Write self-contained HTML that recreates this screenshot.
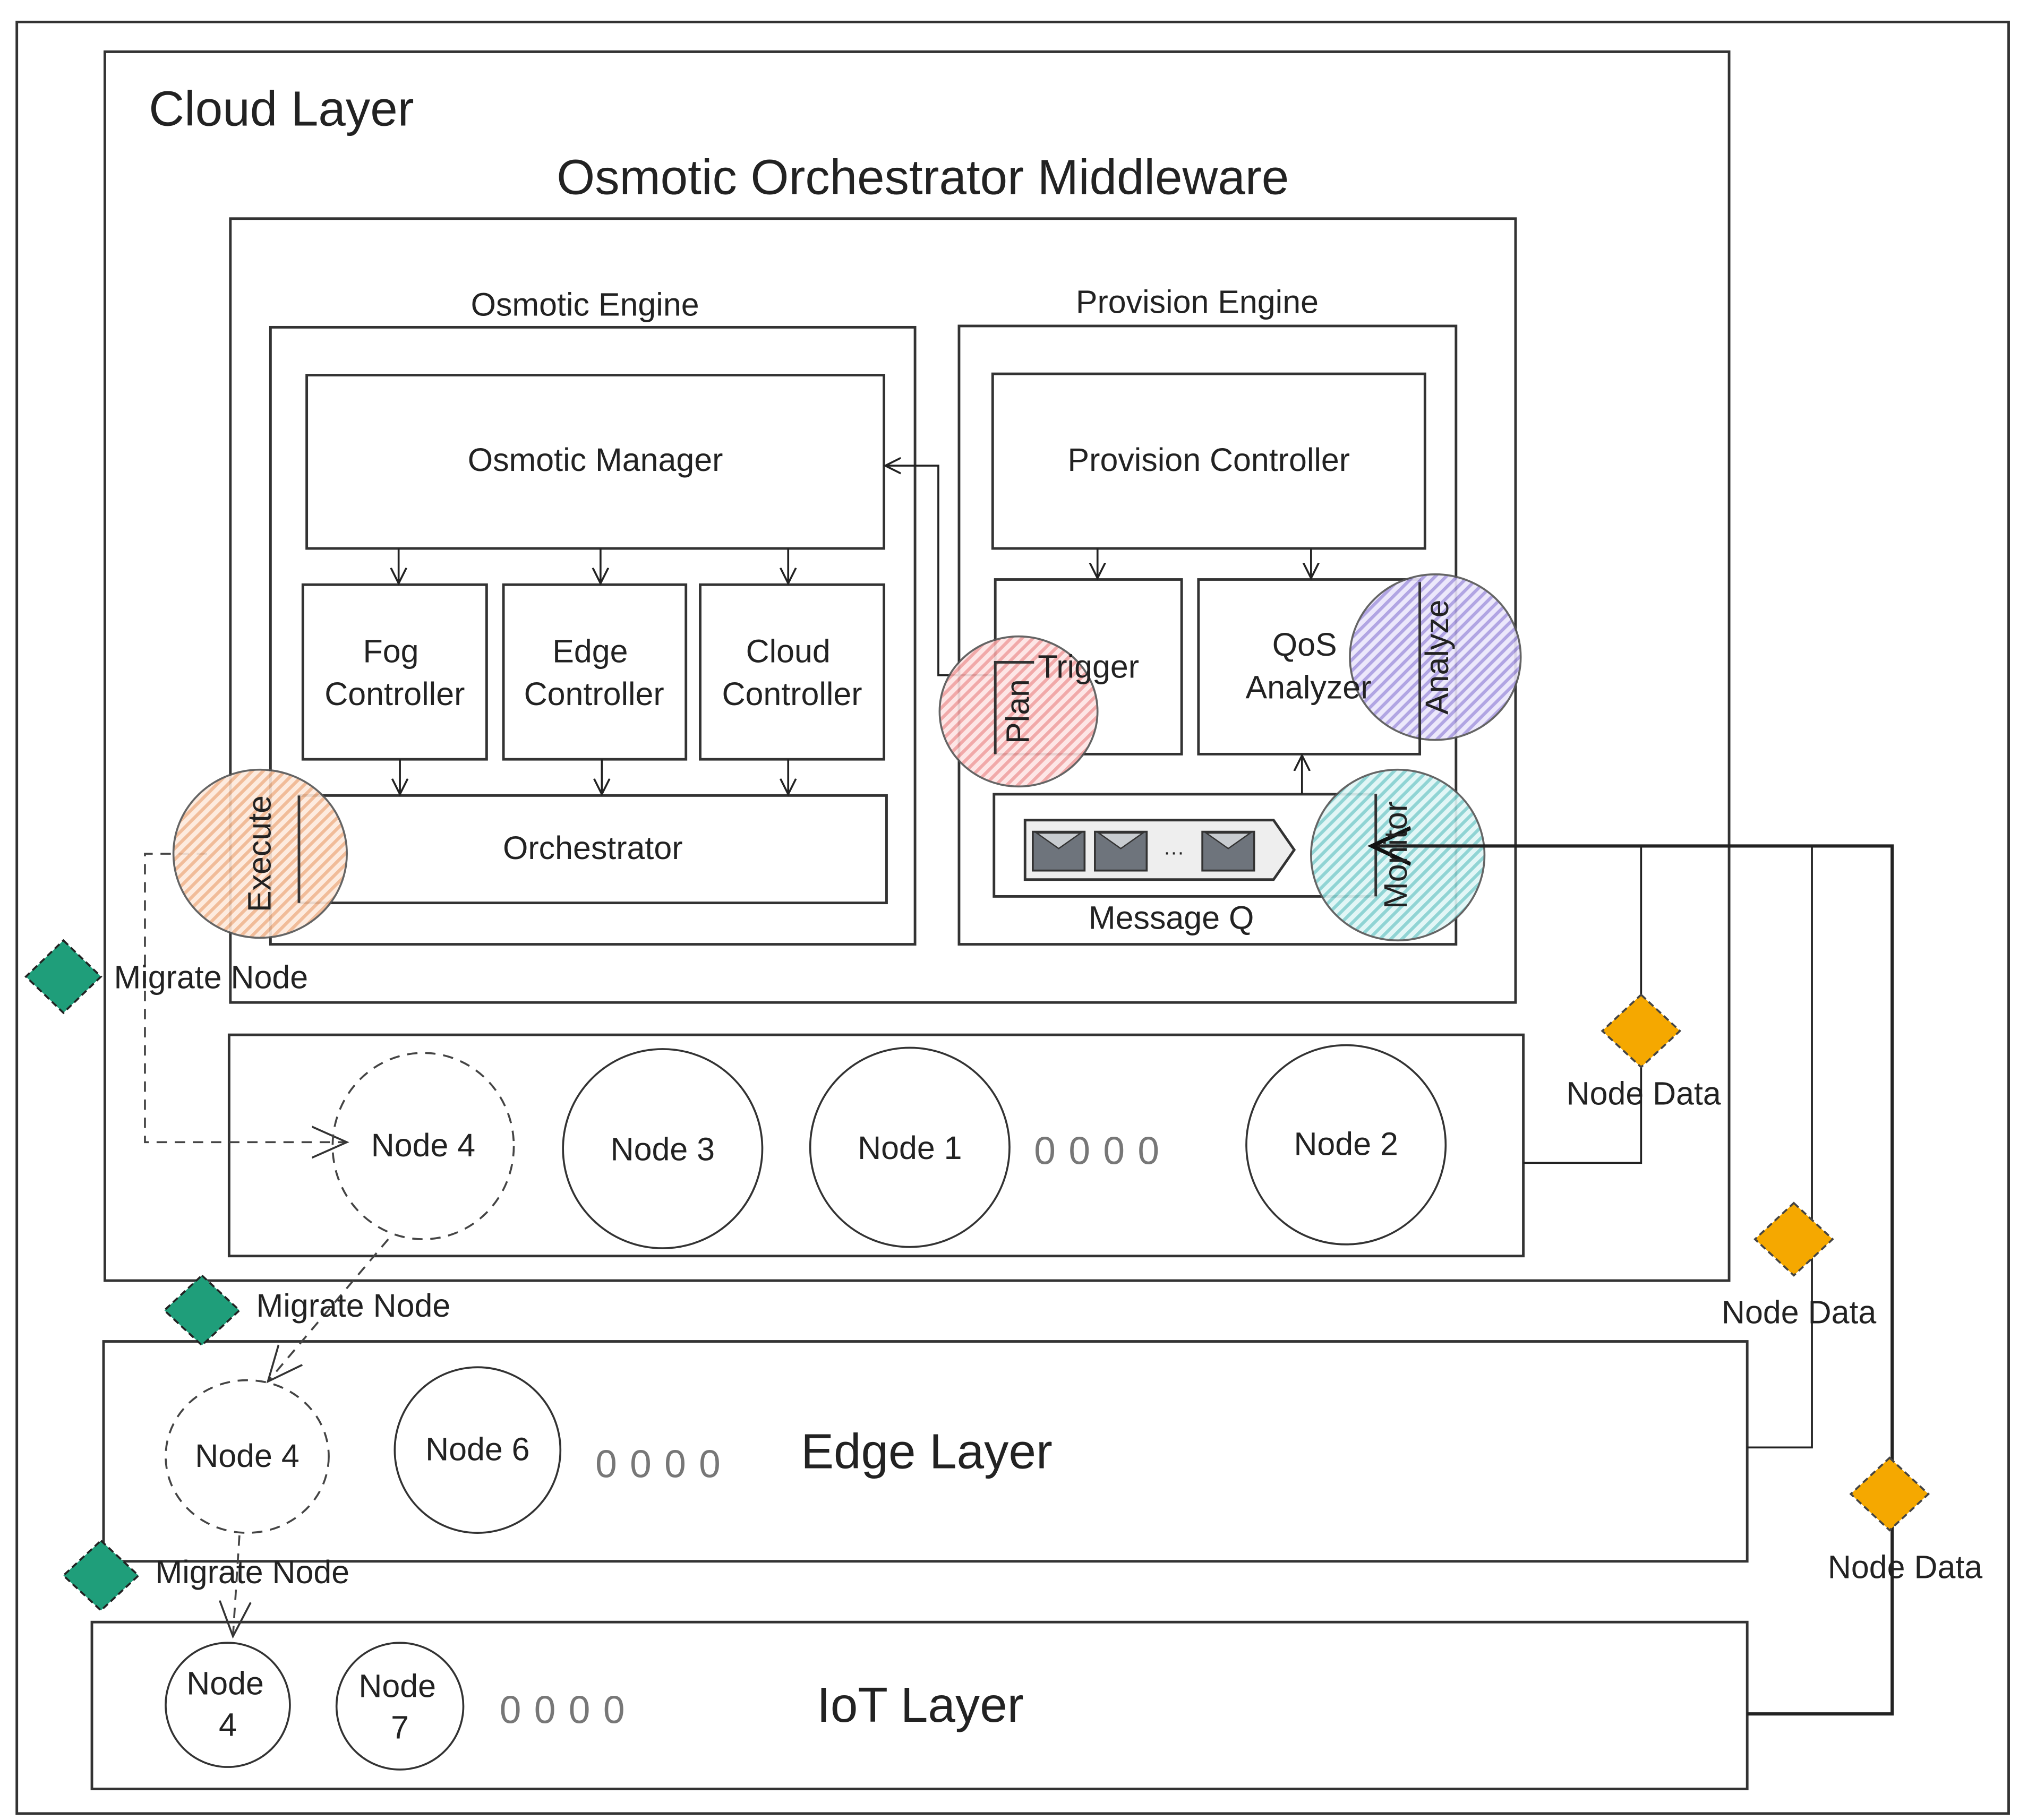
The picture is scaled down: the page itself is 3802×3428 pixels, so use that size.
<!DOCTYPE html>
<html><head><meta charset="utf-8"><style>html,body{margin:0;padding:0;background:#fff}svg{display:block}text{font-family:"Liberation Sans",sans-serif;fill:#222}</style></head><body>
<svg width="3802" height="3428" viewBox="0 0 1560 1407" preserveAspectRatio="none" xmlns="http://www.w3.org/2000/svg">
<defs>
<pattern id="hr" width="6" height="6" patternUnits="userSpaceOnUse" patternTransform="rotate(45)"><rect width="6" height="6" fill="#fde4e4"/><rect width="2.5" height="6" fill="#f0a0a0"/></pattern>
<pattern id="hp" width="6" height="6" patternUnits="userSpaceOnUse" patternTransform="rotate(45)"><rect width="6" height="6" fill="#ebe6fb"/><rect width="2.5" height="6" fill="#a99ce0"/></pattern>
<pattern id="hc" width="6" height="6" patternUnits="userSpaceOnUse" patternTransform="rotate(45)"><rect width="6" height="6" fill="#dff6f6"/><rect width="2.5" height="6" fill="#84d0d0"/></pattern>
<pattern id="ho" width="6" height="6" patternUnits="userSpaceOnUse" patternTransform="rotate(45)"><rect width="6" height="6" fill="#fde9dc"/><rect width="2.5" height="6" fill="#f0b58e"/></pattern>
<marker id="oa" markerWidth="14" markerHeight="14" refX="12" refY="7" orient="auto" markerUnits="userSpaceOnUse"><path d="M0,1 L12,7 L0,13" fill="none" stroke="#222" stroke-width="1.5"/></marker>
<marker id="ob" markerWidth="30" markerHeight="30" refX="27" refY="15" orient="auto" markerUnits="userSpaceOnUse"><path d="M0,3 L27,15 L0,27" fill="none" stroke="#333" stroke-width="1.5"/></marker>
<marker id="om" markerWidth="34" markerHeight="34" refX="30" refY="17" orient="auto" markerUnits="userSpaceOnUse"><path d="M0,3 L30,17 L0,31" fill="none" stroke="#111" stroke-width="3"/></marker>
</defs>
<g fill="none" stroke="#333" stroke-width="2">
<rect x="13" y="17" width="1539" height="1385"/>
<rect x="81" y="40" width="1255" height="950"/>
<rect x="178" y="169" width="993" height="606"/>
<rect x="209" y="253" width="498" height="477"/>
<rect x="237" y="290" width="446" height="134"/>
<rect x="234" y="452" width="142" height="135"/>
<rect x="389" y="452" width="141" height="135"/>
<rect x="541" y="452" width="142" height="135"/>
<rect x="231" y="615" width="454" height="83"/>
<rect x="741" y="252" width="384" height="478"/>
<rect x="767" y="289" width="334" height="135"/>
<rect x="769" y="448" width="144" height="135"/>
<rect x="926" y="448" width="171" height="135"/>
<rect x="768" y="614" width="295" height="79"/>
<rect x="177" y="800" width="1000" height="171"/>
<rect x="80" y="1037" width="1270" height="170"/>
<rect x="71" y="1254" width="1279" height="129"/>
</g>
<g stroke="#222" stroke-width="1.5" fill="none" marker-end="url(#oa)">
<line x1="308" y1="424" x2="308" y2="451"/><line x1="464" y1="424" x2="464" y2="451"/><line x1="609" y1="424" x2="609" y2="451"/>
<line x1="309" y1="587" x2="309" y2="614"/><line x1="465" y1="587" x2="465" y2="614"/><line x1="609" y1="587" x2="609" y2="614"/>
<line x1="848" y1="424" x2="848" y2="447"/><line x1="1013" y1="424" x2="1013" y2="447"/>
<line x1="1006" y1="614" x2="1006" y2="584"/>
<polyline points="769,522 725,522 725,360 684,360"/>
</g>
<path d="M792,634 L984,634 L1000,657 L984,680 L792,680 Z" fill="#eee" stroke="#333" stroke-width="2"/>
<g fill="#6e747c" stroke="#333" stroke-width="1.5">
<rect x="798" y="643" width="40" height="30"/><rect x="846" y="643" width="40" height="30"/><rect x="929" y="643" width="40" height="30"/>
</g>
<g fill="#c8ccd0" stroke="#333" stroke-width="1"><path d="M801,644 L818,656 L835,644Z"/><path d="M849,644 L866,656 L883,644Z"/><path d="M932,644 L949,656 L966,644Z"/></g>
<text x="907" y="664" font-size="16" text-anchor="middle">···</text>
<g stroke="#444" stroke-width="1.5" fill="none" stroke-dasharray="8,6">
<polyline points="160,660 112,660 112,883 268,883" marker-end="url(#ob)"/>
<line x1="300" y1="958" x2="207" y2="1068" marker-end="url(#ob)"/>
<line x1="185" y1="1187" x2="180" y2="1265" marker-end="url(#ob)"/>
<ellipse cx="327" cy="886" rx="70" ry="72"/>
<ellipse cx="191" cy="1126" rx="63" ry="59"/>
</g>
<g fill="none" stroke="#333" stroke-width="1.5">
<circle cx="512" cy="888" r="77"/><circle cx="703" cy="887" r="77"/><circle cx="1040" cy="885" r="77"/>
<circle cx="369" cy="1121" r="64"/><circle cx="176" cy="1318" r="48"/><circle cx="309" cy="1319" r="49"/>
</g>
<g stroke="#555" stroke-width="1.5">
<ellipse cx="787" cy="550" rx="61" ry="58" fill="url(#hr)" opacity="0.9"/>
<ellipse cx="1109" cy="508" rx="66" ry="64" fill="url(#hp)" opacity="0.9"/>
<ellipse cx="1080" cy="661" rx="67" ry="66" fill="url(#hc)" opacity="0.9"/>
<ellipse cx="201" cy="660" rx="67" ry="65" fill="url(#ho)" opacity="0.9"/>
</g>
<g fill="none" stroke="#333" stroke-width="2">
<polyline points="799,512 769,512 769,583"/>
<polyline points="1097,450 1097,572"/>
<line x1="1063" y1="614" x2="1063" y2="693"/>
<line x1="231" y1="615" x2="231" y2="698"/>
</g>
<g fill="none" stroke="#222" stroke-width="1.5">
<polyline points="1177,899 1268,899 1268,655"/>
<polyline points="1350,1119 1400,1119 1400,655"/>
<polyline points="1350,1325 1462,1325 1462,654 1060,654" stroke-width="2.5" marker-end="url(#om)"/>
</g>
<g fill="#1f9e7a" stroke="#222" stroke-width="1.5" stroke-dasharray="5,3">
<path d="M49,727 L78,755 L49,783 L20,755Z"/><path d="M156,986 L185,1013 L156,1040 L127,1013Z"/><path d="M78,1191 L107,1218 L78,1245 L49,1218Z"/>
</g>
<g fill="#f5a800" stroke="#444" stroke-width="1.5" stroke-dasharray="5,3">
<path d="M1268,769 L1298,797 L1268,825 L1238,797Z"/><path d="M1386,930 L1416,958 L1386,986 L1356,958Z"/><path d="M1460,1127 L1490,1155 L1460,1183 L1430,1155Z"/>
</g>
<text x="115" y="97" font-size="38">Cloud Layer</text>
<text x="713" y="150" font-size="38" text-anchor="middle">Osmotic Orchestrator Middleware</text>
<g font-size="25" text-anchor="middle">
<text x="452" y="244">Osmotic Engine</text>
<text x="925" y="242">Provision Engine</text>
<text x="460" y="364">Osmotic Manager</text>
<text x="934" y="364">Provision Controller</text>
<text x="302" y="512">Fog</text><text x="305" y="545">Controller</text>
<text x="456" y="512">Edge</text><text x="459" y="545">Controller</text>
<text x="609" y="512">Cloud</text><text x="612" y="545">Controller</text>
<text x="458" y="664">Orchestrator</text>
<text x="841" y="524">Trigger</text>
<text x="1008" y="507">QoS</text><text x="1011" y="540">Analyzer</text>
<text x="905" y="718">Message Q</text>
<text x="327" y="894">Node 4</text><text x="512" y="897">Node 3</text><text x="703" y="896">Node 1</text><text x="1040" y="893">Node 2</text>
<text x="191" y="1134">Node 4</text><text x="369" y="1129">Node 6</text>
<text x="174" y="1310">Node</text><text x="176" y="1342">4</text>
<text x="307" y="1312">Node</text><text x="309" y="1344">7</text>
<text x="1270" y="854">Node Data</text><text x="1390" y="1023">Node Data</text><text x="1472" y="1220">Node Data</text>
</g>
<g font-size="30" fill="#777" style="fill:#777" letter-spacing="10">
<text x="799" y="900" style="fill:#777">0000</text>
<text x="460" y="1142" style="fill:#777">0000</text>
<text x="386" y="1332" style="fill:#777">0000</text>
</g>
<g font-size="25">
<text x="88" y="764">Migrate Node</text><text x="198" y="1018">Migrate Node</text><text x="120" y="1224">Migrate Node</text>
</g>
<text x="716" y="1135" font-size="38" text-anchor="middle">Edge Layer</text>
<text x="711" y="1331" font-size="38" text-anchor="middle">IoT Layer</text>
<g font-size="25" text-anchor="middle">
<text transform="translate(795,550) rotate(-90)">Plan</text>
<text transform="translate(1119,508) rotate(-90)">Analyze</text>
<text transform="translate(1087,661) rotate(-90)">Monitor</text>
<text transform="translate(209,660) rotate(-90)">Execute</text>
</g>
</svg>
</body></html>
